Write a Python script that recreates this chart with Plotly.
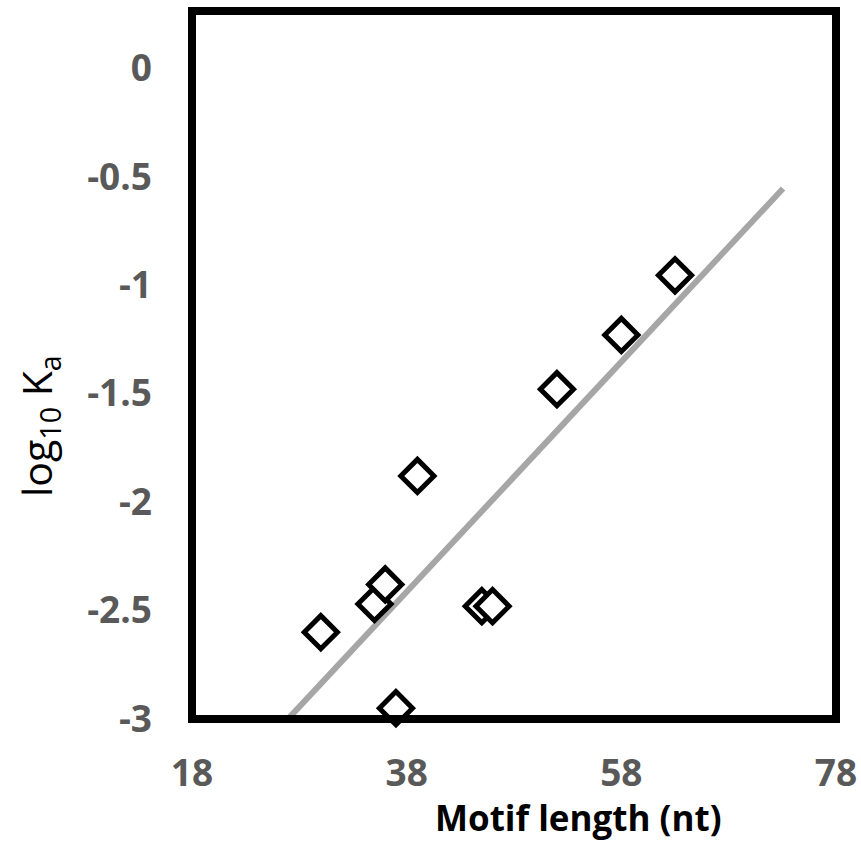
import numpy as np
import plotly.graph_objects as go

# Data
motif_length = [30, 35, 36, 37, 39, 45, 46, 52, 58, 63]
log10_ka = [-2.60, -2.47, -2.38, -2.95, -1.88, -2.48, -2.48, -1.48, -1.23, -0.955]

# Linear trendline drawn over this x span
trend_x = [27.04, 73.07]

y_ticks = [0, -0.5, -1, -1.5, -2, -2.5, -3]
y_tick_text = ["0", "-0.5", "-1", "-1.5", "-2", "-2.5", "-3"]
x_ticks = [18, 38, 58, 78]
x_tick_text = ["18", "38", "58", "78"]

slope, intercept = np.polyfit(motif_length, log10_ka, 1)
trend_y = [slope * x + intercept for x in trend_x]

fig = go.Figure()
fig.add_trace(go.Scatter(
    x=trend_x, y=trend_y, mode="lines",
    line=dict(color="#A6A6A6", width=6),
    showlegend=False, hoverinfo="skip",
))
fig.add_trace(go.Scatter(
    x=motif_length, y=log10_ka, mode="markers",
    marker=dict(symbol="diamond", size=25.5, color="white",
                line=dict(color="black", width=5)),
    cliponaxis=False, showlegend=False,
))

tick_font = dict(family="Open Sans", size=37, color="#595959", weight="bold")

fig.update_layout(
    width=861, height=846,
    margin=dict(l=192, r=25, t=11, b=127, autoexpand=False),
    paper_bgcolor="white", plot_bgcolor="white",
    xaxis=dict(range=[18, 78], tickvals=x_ticks, ticktext=x_tick_text,
               showgrid=False, zeroline=False, showline=False, automargin=False,
               ticks="", tickfont=tick_font, ticklabelstandoff=29),
    yaxis=dict(range=[-3, 0.263], tickvals=y_ticks, ticktext=y_tick_text,
               showgrid=False, zeroline=False, showline=False, automargin=False,
               ticks="", tickfont=tick_font, ticklabelstandoff=39),
    shapes=[dict(type="rect", xref="paper", yref="paper", x0=0, x1=1, y0=0, y1=1,
                 line=dict(color="black", width=8), layer="above")],
    annotations=[
        dict(text="<b>Motif length (nt)</b>", xref="paper", yref="paper",
             x=(578 - 192) / 644, y=-(817 - 719) / 708, xanchor="center", yanchor="middle",
             showarrow=False, font=dict(family="Open Sans", size=35, color="black")),
        dict(text="log<sub>10</sub> K<sub>a</sub>", xref="paper", yref="paper",
             x=-(192 - 38) / 644, y=(719 - 426) / 708, xanchor="center", yanchor="middle",
             textangle=-90, showarrow=False,
             font=dict(family="Open Sans", size=41, color="black")),
    ],
)

post = ("document.body.style.margin='0';document.body.style.padding='0';"
        "document.body.style.overflow='hidden';"
        "var gd=document.getElementById('{plot_id}');gd.style.margin='0';")

fig.write_html("out.html", post_script=post, config={"displayModeBar": False})
